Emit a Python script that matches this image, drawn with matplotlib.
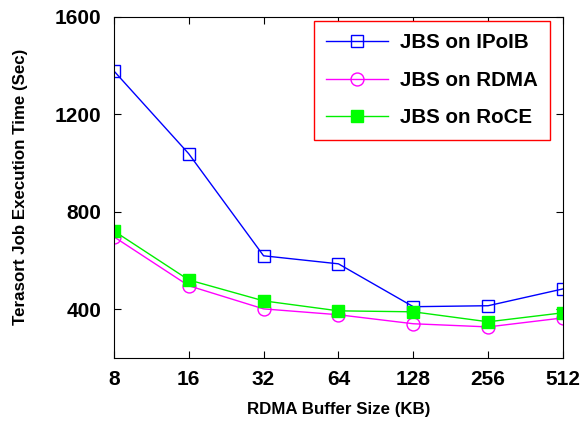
import matplotlib.pyplot as plt

buf_sizes = ['8', '16', '32', '64', '128', '256', '512']
ipoib = [1378, 1038, 619, 586, 410, 414, 483]
rdma = [697, 496, 401, 377, 340, 327, 364]
roce = [721, 520, 434, 393, 389, 348, 385]

plt.rcParams['font.family'] = 'Liberation Sans'
plt.rcParams['font.weight'] = 'bold'

fig = plt.figure(figsize=(5.84, 4.21), dpi=100)
ax = fig.add_axes([0.195, 0.150, 0.769, 0.810])

x = range(len(buf_sizes))
ax.plot(x, ipoib, color='blue', marker='s', markersize=9.3, markerfacecolor='none',
        markeredgecolor='blue', linewidth=1, label='JBS on IPoIB')
ax.plot(x, rdma, color='magenta', marker='o', markersize=9.3, markerfacecolor='none',
        markeredgecolor='magenta', linewidth=1, label='JBS on RDMA')
ax.plot(x, roce, color='#00ee00', marker='s', markersize=8.5, markerfacecolor='#00ff00',
        markeredgecolor='#00ff00', linewidth=1, label='JBS on RoCE')

ax.set_xlim(0, 6)
ax.set_ylim(200, 1600)
ax.set_xticks(list(x))
ax.set_xticklabels(buf_sizes)
ax.set_yticks([400, 800, 1200, 1600])
ax.tick_params(direction='in', top=True, right=True, labelsize=15, pad=9, length=5)
for lab in ax.get_xticklabels() + ax.get_yticklabels():
    lab.set_fontweight('bold')

ax.set_xlabel('RDMA Buffer Size (KB)', fontsize=12.2, fontweight='bold', labelpad=9)
ax.set_ylabel('Terasort Job Execution Time (Sec)', fontsize=12.2, fontweight='bold', labelpad=19)

leg = ax.legend(loc='upper right', bbox_to_anchor=(550 / 584, 1 - 21 / 421),
                bbox_transform=fig.transFigure, borderaxespad=0,
                handlelength=3.0, handletextpad=0.6, borderpad=0.6,
                labelspacing=0.9, fancybox=False, framealpha=1,
                prop={'weight': 'bold', 'size': 14.8})
leg.get_frame().set_edgecolor('red')
leg.get_frame().set_linewidth(1)

plt.savefig('out.png', dpi=100)
